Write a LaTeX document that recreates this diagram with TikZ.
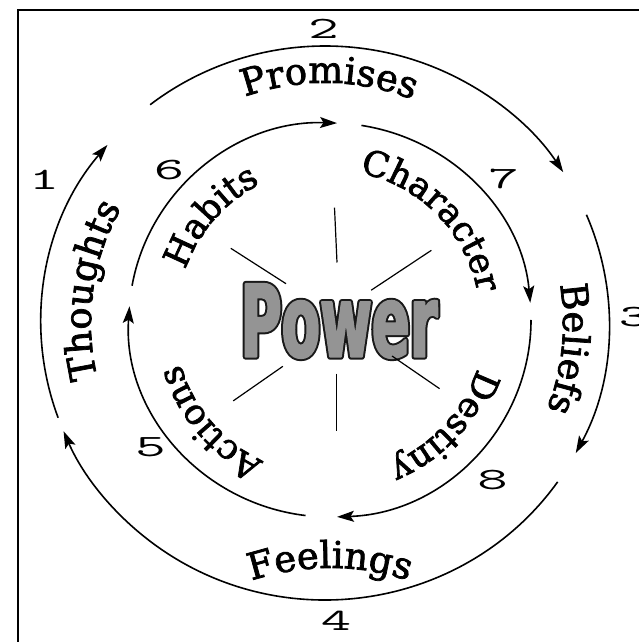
\documentclass[tikz,border=0pt]{standalone}
\usepackage{fontspec}
\usetikzlibrary{decorations.text,arrows.meta,calc}
\newfontfamily\labelfont[FakeBold=2]{DejaVu Serif}
\newfontfamily\powerfont[FakeStretch=0.56]{DejaVu Sans Bold}
\newcommand\numfont{\ttfamily\fontsize{31}{31}\selectfont}
\newcommand\outerfont{\labelfont\fontsize{37}{40}\selectfont}
\newcommand\innerfont{\labelfont\fontsize{35}{40}\selectfont}
\newcommand\cwlabel[5]{\path[decorate,decoration={text along path,text align=center,text={|#4|#5}}] ($(#1)+(#2+70:#3)$) arc[start angle=#2+70,end angle=#2-70,radius=#3];}
\newcommand\powerlayer[3]{{\color{#1}\special{pdf:literal direct 1 j #3 w #2 G 2 Tr}Power\special{pdf:literal direct 0 Tr}}}
\begin{document}
\begin{tikzpicture}[x=1pt,y=1pt,
  arcline/.style={line width=1.6pt,-{Stealth[length=17pt,width=11pt,inset=3.5pt]}},
  ray/.style={line width=1.2pt},
  numlabel/.style={inner sep=0pt,font=\numfont},
  powertext/.style={inner sep=0pt,font=\powerfont\fontsize{100}{100}\selectfont}]
\useasboundingbox (0,0) rectangle (638,642);
\fill[white] (0,0) rectangle (638,642);
\coordinate (Co) at (325,319);
\coordinate (Ci) at (330,322);
\coordinate (Cf) at (330,-176);
% frame
\coordinate (fa) at (18,632);
\coordinate (fb) at (640,632);
\coordinate (fc) at (18,-2);
\draw[line width=2pt] (fb) -- (fa) -- (fc);
% outer arcs
\draw[arcline] ($(Co)+(128:284 and 277)$) arc[start angle=128,end angle=33,x radius=284,y radius=277];
\draw[arcline] ($(Co)+(23:284 and 277)$) arc[start angle=23,end angle=-28,x radius=284,y radius=277];
\draw[arcline] ($(Co)+(-35:284 and 277)$) arc[start angle=-35,end angle=-157,x radius=284,y radius=277];
\draw[arcline] ($(Co)+(200:284 and 277)$) arc[start angle=200,end angle=140,x radius=284,y radius=277];
% inner arcs
\draw[arcline] ($(Ci)+(170:201 and 197)$) arc[start angle=170,end angle=88,x radius=201,y radius=197];
\draw[arcline] ($(Ci)+(81:201 and 197)$) arc[start angle=81,end angle=5,x radius=201,y radius=197];
\draw[arcline] ($(Ci)+(0:201 and 197)$) arc[start angle=0,end angle=-88,x radius=201,y radius=197];
\draw[arcline] ($(Ci)+(-97:201 and 197)$) arc[start angle=-97,end angle=-184,x radius=201,y radius=197];
% outer labels
\cwlabel{Co}{89}{240}{\outerfont}{Promises}
\cwlabel{Co}{-6}{238}{\outerfont}{Beliefs}
\cwlabel{Co}{172}{234}{\outerfont}{Thoughts}
\cwlabel{Cf}{90}{250}{\outerfont}{Feelings}
% inner labels
\cwlabel{Ci}{139}{153}{\innerfont}{Habits}
\cwlabel{Ci}{44.5}{150}{\innerfont}{Character}
\cwlabel{Ci}{-43}{155}{\innerfont}{Destiny}
\cwlabel{Ci}{220.5}{156}{\innerfont}{Actions}
% numbers
\node[numlabel] (n1) at (44,462) {\scalebox{1.9}[1]{1}};
\node[numlabel] (n2) at (323.5,613.5) {\scalebox{1.9}[1]{2}};
\node[numlabel] (n3) at (634,325) {\scalebox{1.9}[1]{3}};
\node[numlabel] (n4) at (336,21) {\scalebox{1.9}[1]{4}};
\node[numlabel] (n5) at (150.5,194.5) {\scalebox{1.9}[1]{5}};
\node[numlabel] (n6) at (169,472) {\scalebox{1.9}[1]{6}};
\node[numlabel] (n7) at (503.5,463) {\scalebox{1.9}[1]{7}};
\node[numlabel] (n8) at (492.5,162) {\scalebox{1.9}[1]{8}};
% power
\node[powertext] (powerback) at (339,321) {\powerlayer{black!90}{0.1}{6}};
\node[powertext] (power) at (powerback.center) {\powerlayer{black!42}{0.58}{2}};
% rays
\draw[ray] (334.5,434.4) -- (337,379.5);
\draw[ray] (230.8,393.7) -- (286,358.3);
\draw[ray] (431.4,391.7) -- (371.2,351.8);
\draw[ray] (392,286) -- (439.6,253.3);
\draw[ray] (282.9,275.7) -- (233.2,241.1);
\draw[ray] (336.2,268.4) -- (336.2,211.4);
\end{tikzpicture}
\end{document}
